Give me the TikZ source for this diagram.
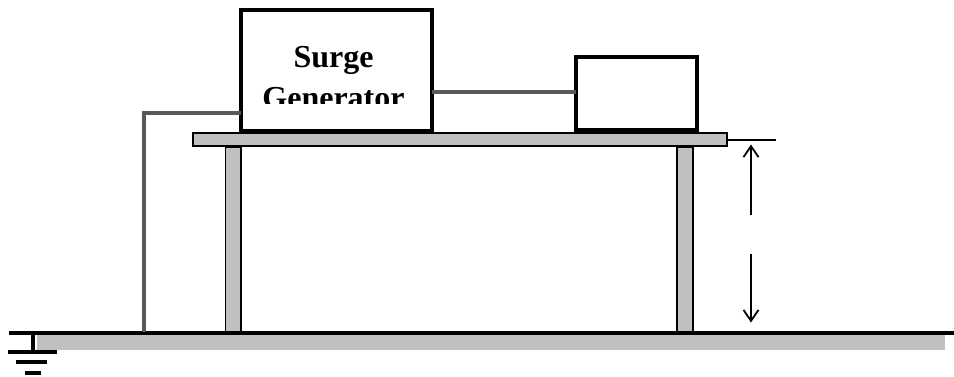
\documentclass[tikz,border=0pt]{standalone}
\usepackage{fontspec}
\setmainfont{Liberation Serif}
\usetikzlibrary{arrows.meta}
\definecolor{slab}{HTML}{C0C0C0}
\definecolor{wire}{HTML}{595959}
\tikzset{
  x=1pt,y=-1pt,
  boxnode/.style={draw=black,line width=4pt,fill=white,inner sep=0pt,outer sep=0pt},
  slabnode/.style={draw=black,line width=1.6pt,fill=slab,inner sep=0pt,outer sep=0pt},
  wireline/.style={draw=wire,line width=4pt},
  groundbar/.style={draw=black,line width=4pt},
  dimarrow/.style={draw=black,line width=1.6pt,-{Straight Barb[length=11pt,width=15pt,line width=1.8pt]}},
  labeltext/.style={font=\fontsize{32}{41}\selectfont\bfseries,align=center,inner sep=0pt}
}
\begin{document}
\begin{tikzpicture}
\useasboundingbox (0,0) rectangle (954,376);
% ground slab and line
\fill[slab] (37,335) rectangle (945,349.5);
% legs
\node[slabnode,minimum width=15.5pt,minimum height=186pt] (legL) at (233.3,240) {};
\node[slabnode,minimum width=15.5pt,minimum height=186pt] (legR) at (685,240) {};
% table top
\node[slabnode,minimum width=534pt,minimum height=13.5pt] (top) at (459.8,139.5) {};
% ground
\coordinate (gndL) at (9,333.3);
\coordinate (gndR) at (954,333.3);
\draw[black,line width=3.8pt] (gndL) -- (gndR);
\coordinate (gndTap) at (33,333.3);
\coordinate (bar1L) at (8,352); \coordinate (bar1R) at (57,352);
\coordinate (bar2L) at (16,361.5); \coordinate (bar2R) at (47,361.5);
\coordinate (bar3L) at (25,373); \coordinate (bar3R) at (41,373);
\coordinate (bar1M) at (33,352);
\draw[black,line width=4pt] (gndTap) -- (bar1M);
\draw[groundbar] (bar1L) -- (bar1R);
\draw[groundbar] (bar2L) -- (bar2R);
\draw[groundbar] (bar3L) -- (bar3R);
% boxes
\node[boxnode,minimum width=191pt,minimum height=121pt] (gen) at (336.6,70.5) {};
\node[boxnode,minimum width=121pt,minimum height=73.5pt] (eut) at (636.5,93.5) {};
% label, cut off inside the box
\begin{scope}
\clip (243,12) rectangle (430,103);
\node[labeltext,anchor=north] (genlabel) at (333.5,46) {Surge\\Generator};
\end{scope}
% wires
\coordinate (wireDrop) at (144,332);
\coordinate (wireCorner) at (144,113);
\draw[wireline] (wireDrop) -- (wireCorner) -- (gen.west |- wireCorner);
\draw[wireline] (gen.east |- 0,92) -- (eut.west |- 0,92);
% height dimension
\coordinate (dimA) at (726,140);
\coordinate (dimB) at (776,140);
\draw[black,line width=1.6pt] (dimA) -- (dimB);
\coordinate (upS) at (751,215); \coordinate (upE) at (751,144.5);
\coordinate (dnS) at (751,254); \coordinate (dnE) at (751,322.5);
\draw[dimarrow] (upS) -- (upE);
\draw[dimarrow] (dnS) -- (dnE);
\end{tikzpicture}
\end{document}
